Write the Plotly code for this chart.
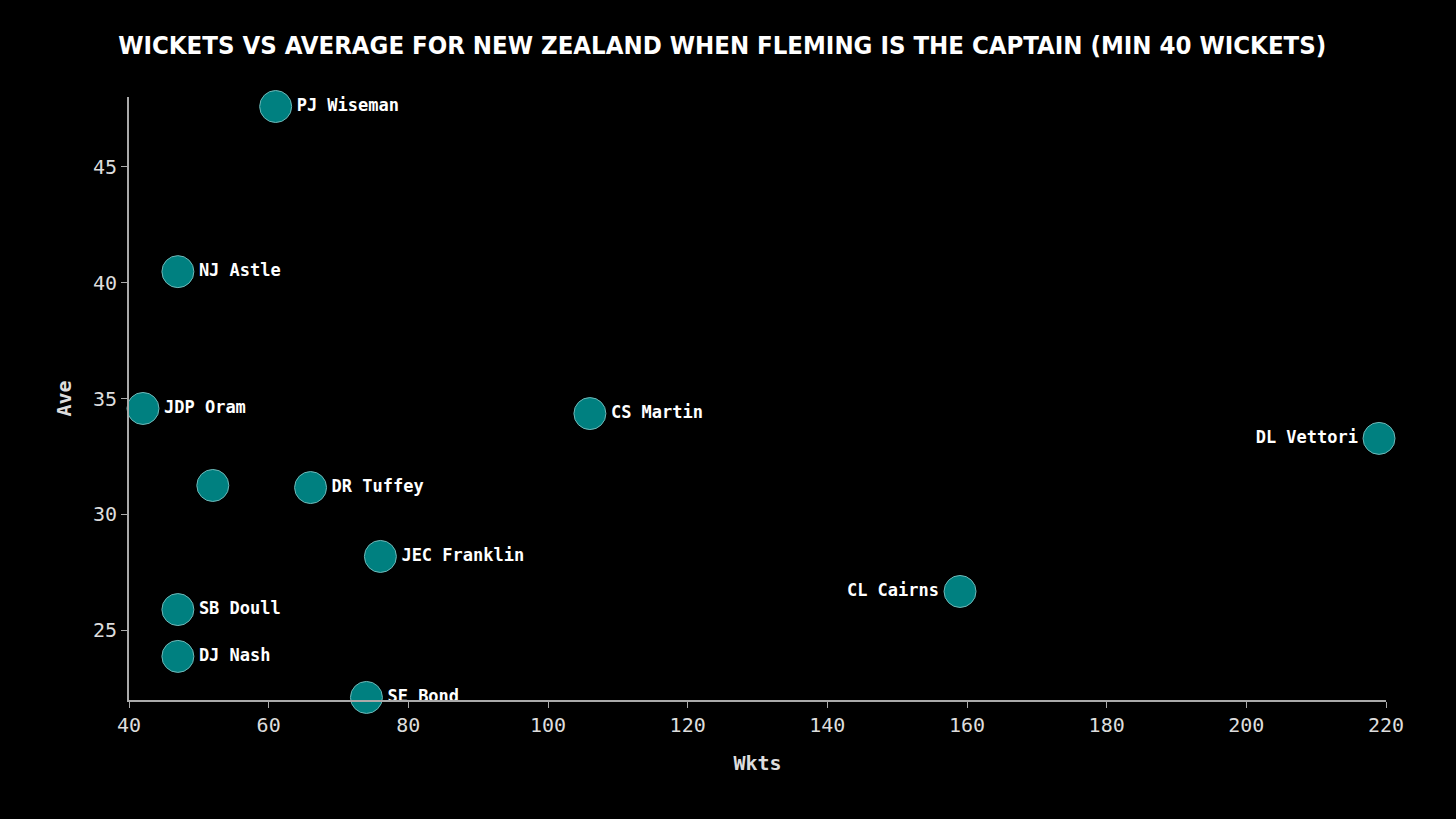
import plotly.graph_objects as go

# Bowlers with at least 40 wickets under Fleming's captaincy
players = ["PJ Wiseman", "NJ Astle", "JDP Oram", "CS Martin", "DL Vettori", "",
           "DR Tuffey", "JEC Franklin", "CL Cairns", "SB Doull", "DJ Nash", "SE Bond"]
wkts = [61, 47, 42, 106, 219, 52, 66, 76, 159, 47, 47, 74]
ave = [47.59, 40.47, 34.57, 34.35, 33.28, 31.25, 31.16, 28.19, 26.68, 25.9, 23.88, 22.11]

x_ticks = [40, 60, 80, 100, 120, 140, 160, 180, 200, 220]
y_ticks = [25, 30, 35, 40, 45]

# labels go left of the point for the far-right bowlers
positions = ["middle left" if w > 150 else "middle right" for w in wkts]

fig = go.Figure()
fig.add_trace(go.Scatter(
    x=wkts, y=ave, mode="markers+text", text=players, textposition=positions,
    marker=dict(size=32, color="#008080", line=dict(color="#6fb8b8", width=1)),
    textfont=dict(family="DejaVu Sans Mono", size=17, color="white", weight="bold"),
    cliponaxis=False, hoverinfo="skip"))

axis_font = dict(family="DejaVu Sans Mono", size=20, color="#dddddd")
fig.update_layout(
    width=1456, height=819,
    paper_bgcolor="black", plot_bgcolor="black",
    margin=dict(l=129, r=70, t=97, b=119),
    showlegend=False,
    title=dict(text="WICKETS VS AVERAGE FOR NEW ZEALAND WHEN FLEMING IS THE CAPTAIN (MIN 40 WICKETS)",
               x=0.496, xanchor="center", y=0.945, yanchor="middle",
               font=dict(family="DejaVu Sans Condensed", size=25.5,
                         color="white", weight="bold")),
    xaxis=dict(range=[40, 220], tickvals=x_ticks, showgrid=False, zeroline=False,
               showline=True, linecolor="#aaaaaa", linewidth=2, ticks="outside",
               ticklen=6, tickcolor="#aaaaaa", tickfont=axis_font,
               title=dict(text="Wkts", standoff=20,
                          font=dict(family="DejaVu Sans Mono", size=20, color="#dddddd", weight="bold"))),
    yaxis=dict(range=[22, 48], tickvals=y_ticks, showgrid=False, zeroline=False,
               showline=True, linecolor="#aaaaaa", linewidth=2, ticks="outside",
               ticklen=6, tickcolor="#aaaaaa", tickfont=axis_font,
               title=dict(text="Ave", standoff=16,
                          font=dict(family="DejaVu Sans Mono", size=20, color="#dddddd", weight="bold"))),
)

fig.write_html("out.html", config={"displayModeBar": False},
               post_script="document.body.style.margin='0';document.body.style.background='black';")
